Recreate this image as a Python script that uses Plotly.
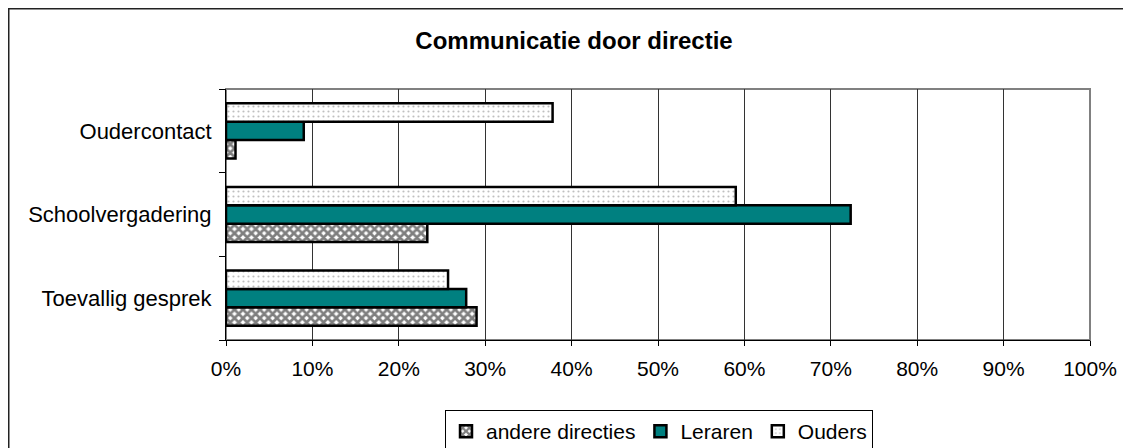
import plotly.graph_objects as go

categories = ["Toevallig gesprek", "Schoolvergadering", "Oudercontact"]
andere_directies = [29.0, 23.3, 1.1]
leraren = [27.8, 72.3, 9.0]
ouders = [25.7, 59.0, 37.8]
x_ticks = [0, 10, 20, 30, 40, 50, 60, 70, 80, 90, 100]
x_tick_labels = [f"{v}%" for v in x_ticks]

FONT = "Arial, Liberation Sans, sans-serif"

fig = go.Figure()
fig.add_trace(go.Bar(
    name="andere directies", y=categories, x=andere_directies, orientation="h",
    marker=dict(color="white", line=dict(color="black", width=2.5),
                pattern=dict(shape="x", fgcolor="black", bgcolor="white", size=6, solidity=0.7)),
))
fig.add_trace(go.Bar(
    name="Leraren", y=categories, x=leraren, orientation="h",
    marker=dict(color="#008080", line=dict(color="black", width=2.5)),
))
fig.add_trace(go.Bar(
    name="Ouders", y=categories, x=ouders, orientation="h",
    marker=dict(color="white", line=dict(color="black", width=2.5),
                pattern=dict(shape=".", fgcolor="#808080", bgcolor="white", size=5, solidity=0.15)),
))

# figure is placed at page offset (8, 8); all pixel positions below are figure coords
W, H = 1131, 460
L, R, T, B = 218, 1082, 81, 332

def px_x(p):
    return (p - L) / (R - L)

def px_y(p):
    return (B - p) / (B - T)

fig.update_layout(
    width=W, height=H,
    margin=dict(l=L, r=W - R, t=T, b=H - B, pad=0, autoexpand=False),
    paper_bgcolor="white", plot_bgcolor="white",
    barmode="group", bargap=0.34, bargroupgap=0,
    font=dict(family=FONT, size=21, color="black"),
    title=dict(text="<b>Communicatie door directie</b>", x=px_x(566), xref="paper",
               xanchor="center", y=1 - 33 / H, yanchor="middle",
               font=dict(family=FONT, size=24, color="black")),
    showlegend=True,
    legend=dict(orientation="h", x=px_x(651), xanchor="center", y=px_y(402), yanchor="top",
                bordercolor="black", borderwidth=1, bgcolor="white",
                font=dict(family=FONT, size=21, color="black"),
                itemwidth=30, tracegroupgap=0),
    xaxis=dict(range=[0, 100], tickvals=x_ticks, ticktext=x_tick_labels,
               showgrid=True, gridcolor="#333333", gridwidth=1,
               showline=True, linecolor="black", linewidth=1,
               ticks="outside", ticklen=5, tickcolor="black",
               zeroline=False, fixedrange=True, ticklabelstandoff=5,
               tickfont=dict(family=FONT, size=21)),
    yaxis=dict(type="category", categoryorder="array", categoryarray=categories,
               showgrid=False, showline=True, linecolor="black", linewidth=1,
               ticks="outside", ticklen=6, tickcolor="black", tickson="boundaries",
               zeroline=False, fixedrange=True, ticklabelstandoff=9,
               tickfont=dict(family=FONT, size=22)),
    shapes=[
        dict(type="rect", xref="paper", yref="paper", x0=0, x1=1, y0=0, y1=1,
             line=dict(color="#808080", width=2), layer="below"),
        dict(type="rect", xref="paper", yref="paper",
             x0=px_x(0.5), x1=px_x(W + 20), y0=px_y(H + 20), y1=px_y(0.5),
             line=dict(color="#222222", width=2), fillcolor="rgba(0,0,0,0)"),
    ],
)

fig.write_html("out.html")
